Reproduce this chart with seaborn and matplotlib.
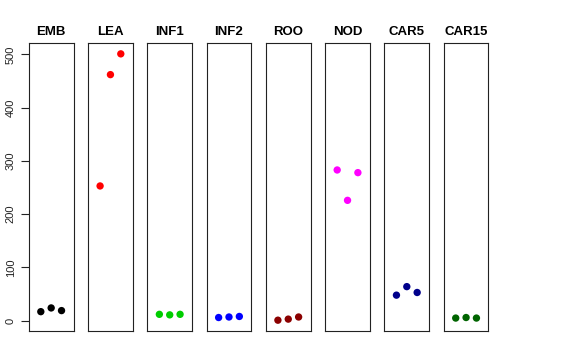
import numpy as np
import pandas as pd
import matplotlib
matplotlib.use('Agg')
import matplotlib.pyplot as plt
import seaborn as sns

# Data: three replicates per tissue
tissues = ['EMB', 'LEA', 'INF1', 'INF2', 'ROO', 'NOD', 'CAR5', 'CAR15']
rep1 = [17, 253, 12, 6, 1, 283, 48, 5]
rep2 = [24, 462, 11, 7, 3, 226, 64, 6]
rep3 = [19, 501, 12, 8, 7, 278, 53, 5]
colors = ['#000000', '#FF0000', '#00CD00', '#0000FF', '#8B0000', '#FF00FF', '#00008B', '#006400']

rows = []
for i, t in enumerate(tissues):
    for j, v in enumerate([rep1[i], rep2[i], rep3[i]]):
        rows.append({'tissue': t, 'rep': j + 1, 'value': v})
df = pd.DataFrame(rows)

sns.set_style('white')
plt.rcParams['font.family'] = ['Liberation Sans', 'DejaVu Sans']
plt.rcParams['text.color'] = 'black'
plt.rcParams['axes.labelcolor'] = 'black'
plt.rcParams['ytick.color'] = 'black'

fig, axes = plt.subplots(1, len(tissues), figsize=(5.76, 3.6), dpi=100, sharey=True)
fig.subplots_adjust(left=0.050, right=0.848, top=0.880, bottom=0.081, wspace=0.325)

ymax = df['value'].max()
ymin = df['value'].min()
pad = 0.04 * (ymax - ymin)

for ax, t, c in zip(axes, tissues, colors):
    sub = df[df['tissue'] == t]
    sns.scatterplot(data=sub, x='rep', y='value', color=c, s=28, edgecolor='none', ax=ax, legend=False)
    ax.set_xlim(-0.16, 4.16)
    ax.set_ylim(ymin - pad, ymax + pad)
    ax.set_title(t, fontsize=9.5, fontweight='bold', color='black', pad=6)
    ax.set_xticks([])
    ax.set_xlabel('')
    ax.set_ylabel('')
    for sp in ax.spines.values():
        sp.set_visible(True)
        sp.set_color('#222222')
        sp.set_linewidth(0.8)
    ax.tick_params(axis='y', left=False, labelleft=False)

axes[0].set_yticks([0, 100, 200, 300, 400, 500])
axes[0].tick_params(axis='y', left=True, labelleft=True, length=6, width=0.8,
                    color='#222222', labelcolor='#222222', labelsize=8, labelrotation=90)
for lab in axes[0].get_yticklabels():
    lab.set_va('center')

fig.savefig('out.png', dpi=100)
